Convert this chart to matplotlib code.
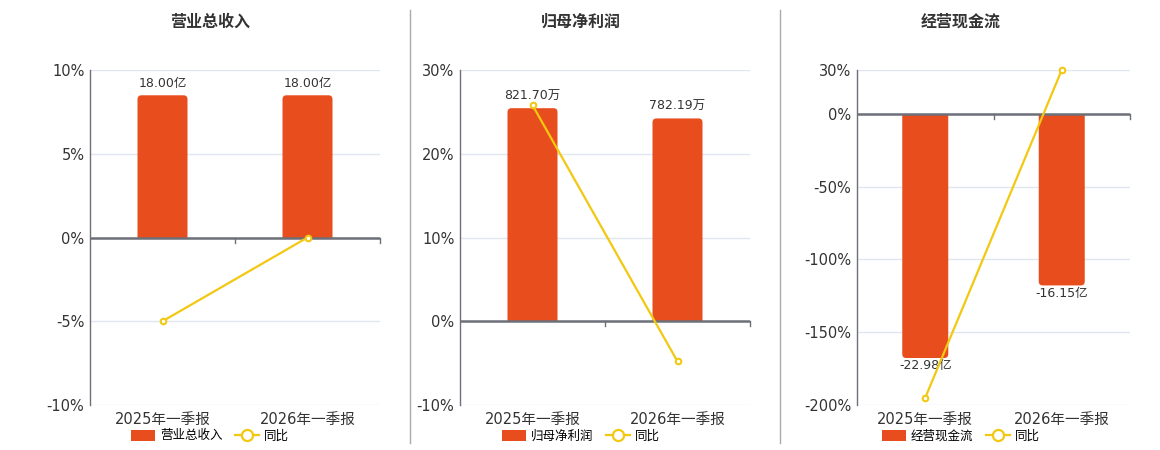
import matplotlib
matplotlib.use('Agg')
import matplotlib.pyplot as plt
from matplotlib.patches import FancyBboxPatch, Rectangle, Patch
from matplotlib.lines import Line2D

plt.rcParams['font.family'] = ['DejaVu Sans', 'Noto Sans CJK SC']

# 数据
periods = ['2025年一季报', '2026年一季报']
titles = ['营业总收入', '归母净利润', '经营现金流']
bar_values = [[18.00, 18.00], [821.70, 782.19], [-22.98, -16.15]]
bar_units = ['亿', '万', '亿']
yoy_values = [[-5.0, 0.0], [25.8, -4.8], [-195.0, 30.0]]
yoy_ticks = [[-10, -5, 0, 5, 10], [-10, 0, 10, 20, 30], [-200, -150, -100, -50, 0, 30]]
bar_lims = [(-21.2, 21.2), (-323, 969), (-27.4, 4.12)]

BAR_COLOR = '#E84D1D'
LINE_COLOR = '#F2C811'
AXIS_COLOR = '#6E7079'
GRID_COLOR = '#E0E6F1'
TEXT_COLOR = '#333333'

fig = plt.figure(figsize=(11.6, 4.5), dpi=100)

ax_rects = [(90, 290), (460, 290), (857, 273)]
title_x = [210, 581, 961]

for i in range(3):
    left, width = ax_rects[i]
    ax = fig.add_axes([left / 1160, 45 / 450, width / 1160, 335 / 450])
    ticks = yoy_ticks[i]
    ax.set_ylim(ticks[0], ticks[-1])
    ax.set_xlim(-0.5, 1.5)
    ax.set_yticks(ticks)
    ax.set_yticklabels([f'{t}%' for t in ticks])
    for t in ticks:
        ax.axhline(t, color=GRID_COLOR, lw=1, zorder=0)
    for s in ['top', 'right', 'bottom']:
        ax.spines[s].set_visible(False)
    ax.spines['left'].set_color(AXIS_COLOR)
    ax.spines['left'].set_linewidth(1)
    ax.tick_params(axis='y', length=0, labelsize=10.5, labelcolor=TEXT_COLOR, pad=4)
    ax.set_xticks([0, 1])
    ax.set_xticklabels(periods)
    ax.tick_params(axis='x', length=0, labelsize=10.5, labelcolor=TEXT_COLOR, pad=5)

    # 柱子放在隐藏的副轴上, 零点对齐
    bx = ax.twinx()
    bx.set_ylim(*bar_lims[i])
    bx.set_xlim(-0.5, 1.5)
    bx.axis('off')

    # 折线放在最上层
    lx = ax.twinx()
    lx.set_ylim(ticks[0], ticks[-1])
    lx.set_xlim(-0.5, 1.5)
    lx.axis('off')

    fig.canvas.draw()
    bbox = bx.get_window_extent()
    ypp = (bar_lims[i][1] - bar_lims[i][0]) / bbox.height
    xpp = 2.0 / bbox.width
    bw = 50 * xpp if i < 2 else 46 * xpp
    r = 4 * xpp
    ry = 6 * ypp
    for j, v in enumerate(bar_values[i]):
        x0 = j - bw / 2
        if v >= 0:
            p = FancyBboxPatch((x0, -ry), bw, v + ry,
                               boxstyle=f'round,pad=0,rounding_size={r}',
                               mutation_aspect=ypp / xpp,
                               fc=BAR_COLOR, ec='none', zorder=2)
            clip = Rectangle((x0 - 1, 0), bw + 2, v * 2, transform=bx.transData)
        else:
            p = FancyBboxPatch((x0, v), bw, -v + ry,
                               boxstyle=f'round,pad=0,rounding_size={r}',
                               mutation_aspect=ypp / xpp,
                               fc=BAR_COLOR, ec='none', zorder=2)
            clip = Rectangle((x0 - 1, v * 2), bw + 2, -v * 2, transform=bx.transData)
        bx.add_patch(p)
        p.set_clip_path(clip)
        if v >= 0:
            bx.annotate(f'{v:.2f}{bar_units[i]}', (j, v), xytext=(0, 4),
                        textcoords='offset points', ha='center', va='bottom',
                        fontsize=9, color=TEXT_COLOR)
        else:
            bx.annotate(f'{v:.2f}{bar_units[i]}', (j, v), xytext=(0, -1),
                        textcoords='offset points', ha='center', va='top',
                        fontsize=9, color=TEXT_COLOR)

    # 零轴线和分类刻度
    lx.axhline(0, color=AXIS_COLOR, lw=1.8, zorder=3)
    ypp_a = (ticks[-1] - ticks[0]) / bbox.height
    for xb in [0.5, 1.5]:
        lx.plot([xb, xb], [0, -5 * ypp_a], color=AXIS_COLOR, lw=1, zorder=3,
                clip_on=False)

    lx.plot([0, 1], yoy_values[i], color=LINE_COLOR, lw=1.6, marker='o',
            ms=4, mfc='white', mec=LINE_COLOR, mew=1.5, zorder=5, clip_on=False)

    fig.text(title_x[i] / 1160, 1 - 22 / 450, titles[i], ha='center', va='center',
             fontsize=11.5, fontweight='bold', color=TEXT_COLOR,
             family=['Noto Sans CJK SC', 'DejaVu Sans'])

    handles = [Patch(fc=BAR_COLOR, ec='none'),
               Line2D([], [], color=LINE_COLOR, lw=1.6, marker='o', ms=8,
                      mfc='white', mec=LINE_COLOR, mew=1.6)]
    fig.legend(handles, [titles[i], '同比'], loc='center',
               bbox_to_anchor=(title_x[i] / 1160, 1 - 436 / 450), ncol=2,
               frameon=False, handlelength=1.9, handleheight=1.0,
               columnspacing=1.0, handletextpad=0.4,
               prop={'family': ['Noto Sans CJK SC', 'DejaVu Sans'], 'size': 9})

for xd in [410, 780]:
    fig.add_artist(Line2D([xd / 1160, xd / 1160], [1 - 10 / 450, 1 - 443 / 450],
                          color='#AAAAAA', lw=1))

fig.savefig('out.png', dpi=100)
